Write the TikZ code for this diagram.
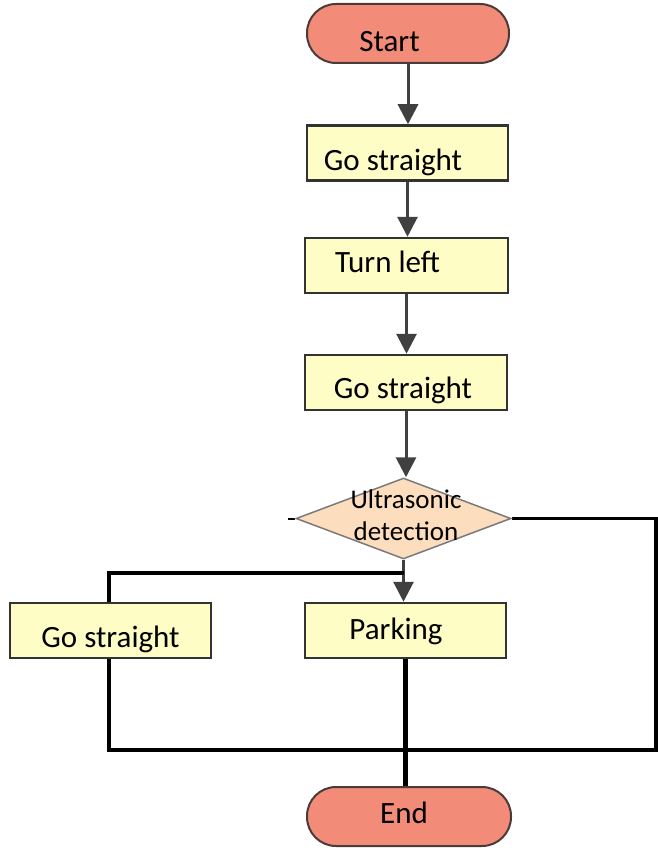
\documentclass[tikz,border=0pt]{standalone}
\usepackage{fontspec}
\setmainfont{Carlito}
\usetikzlibrary{shapes.geometric,arrows.meta}
\pgfdeclarelayer{bg}
\pgfsetlayers{bg,main}
\definecolor{termfill}{HTML}{F28C78}
\definecolor{termline}{HTML}{4A3A38}
\definecolor{procfill}{HTML}{FFFDC6}
\definecolor{procline}{HTML}{333333}
\definecolor{decfill}{HTML}{FCDDBD}
\definecolor{decline}{HTML}{7A7A7A}
\definecolor{arrcol}{HTML}{404040}
\tikzset{
  txt/.style={font=\fontsize{31}{37}\selectfont, text height=21pt, text depth=7pt, inner sep=0pt},
  term/.style={draw=termline, fill=termfill, line width=2pt, rounded corners=29pt, minimum width=202pt, minimum height=59pt, inner sep=0pt},
  proc/.style={draw=procline, fill=procfill, line width=2.5pt, minimum width=201pt, minimum height=55pt, inner sep=0pt},
  dec/.style={diamond, draw=decline, fill=decfill, line width=1.5pt, minimum width=215pt, minimum height=81pt, inner sep=0pt},
  flow/.style={draw=arrcol, line width=3pt, -{Triangle[width=20pt,length=20pt]}},
  loopline/.style={draw=black, line width=3.5pt},
  thickline/.style={draw=black, line width=5pt}
}
\begin{document}
\begin{tikzpicture}[x=1pt,y=-1pt]
\useasboundingbox (0,0) rectangle (658,848);
\node[term, label={[txt,xshift=-18.5pt,yshift=-11.5pt]center:Start}] (start) at (408,33.5) {};
\node[proc, label={[txt,xshift=-14.5pt,yshift=-10pt]center:Go straight}] (gs1) at (407.5,153) {};
\node[proc, minimum width=203pt, label={[txt,xshift=-19pt,yshift=0pt]center:Turn left}] (tl) at (406.5,265.5) {};
\node[proc, minimum width=202pt, label={[txt,xshift=-3pt,yshift=-8.5pt]center:Go straight}] (gs2) at (406,382.5) {};
\node[dec, label={[font=\fontsize{27}{32}\selectfont, align=center, inner sep=0pt, xshift=2.5pt, yshift=3.5pt]center:Ultrasonic\\detection}] (det) at (403.5,518.5) {};
\node[proc, label={[txt,xshift=-9.5pt,yshift=-1.5pt]center:Parking}] (park) at (405.5,630.5) {};
\node[proc, label={[txt,xshift=0pt,yshift=-9.5pt]center:Go straight}] (gs3) at (110.5,630.5) {};
\node[term, minimum width=204pt, label={[txt,xshift=-5pt,yshift=0pt]center:End}] (end) at (409,816.5) {};

\coordinate (stub) at (288,518.5);
\coordinate (r1) at (656,518.5);
\coordinate (r2) at (656,750);
\coordinate (l1) at (109,750);
\coordinate (l2) at (109,573);
\coordinate (j) at (404,573);

\begin{pgfonlayer}{bg}
\draw[flow] (start.south) -- (start.south |- gs1.north);
\draw[flow] (gs1.south) -- (gs1.south |- tl.north);
\draw[flow] (tl.south) -- (tl.south |- gs2.north);
\draw[flow] (gs2.south) -- (gs2.south |- det.north);
\draw[flow] (det.south) -- (det.south |- park.north);
\draw[draw=black, line width=2pt] (stub) -- (det.west);
\draw[loopline, line join=miter] (det.east) -- (r1) -- (r2) -- (l1) -- (l2) -- (j);
\draw[thickline] (park.south) -- (park.south |- end.north);
\end{pgfonlayer}
\end{tikzpicture}
\end{document}
